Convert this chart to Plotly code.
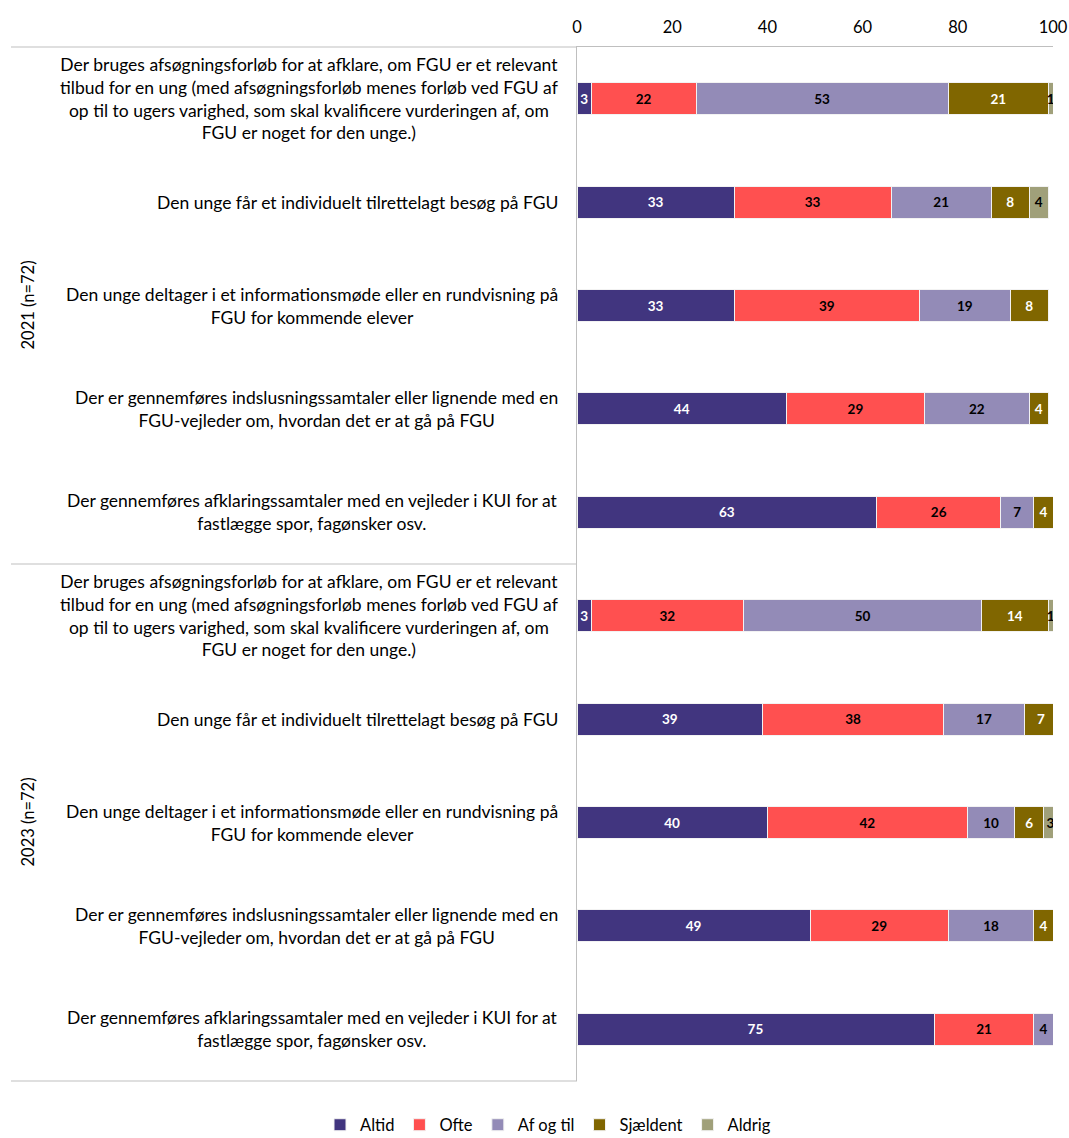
import plotly.graph_objects as go

# ---------------- data ----------------
years = ["2021 (n=72)", "2023 (n=72)"]
statements = [
    "Der bruges afsøgningsforløb for at afklare, om FGU er et relevant<br>tilbud for en ung (med afsøgningsforløb menes forløb ved FGU af<br>op til to ugers varighed, som skal kvalificere vurderingen af, om<br>FGU er noget for den unge.)",
    "Den unge får et individuelt tilrettelagt besøg på FGU",
    "Den unge deltager i et informationsmøde eller en rundvisning på<br>FGU for kommende elever",
    "Der er gennemføres indslusningssamtaler eller lignende med en<br>FGU-vejleder om, hvordan det er at gå på FGU",
    "Der gennemføres afklaringssamtaler med en vejleder i KUI for at<br>fastlægge spor, fagønsker osv.",
]
series_names = ["Altid", "Ofte", "Af og til", "Sjældent", "Aldrig"]

# values per series, rows: 2021 statements 1-5, then 2023 statements 1-5
altid     = [3, 33, 33, 44, 63, 3, 39, 40, 49, 75]
ofte      = [22, 33, 39, 29, 26, 32, 38, 42, 29, 21]
af_og_til = [53, 21, 19, 22, 7, 50, 17, 10, 18, 4]
sjaeldent = [21, 8, 8, 4, 4, 14, 7, 6, 4, None]
aldrig    = [1, 4, None, None, None, 1, None, 3, None, None]

x_ticks = [0, 20, 40, 60, 80, 100]

# ---------------- styling ----------------
colors = ["#41357F", "#FF5050", "#938BB7", "#806600", "#A0A07A"]
text_colors = ["white", "black", "black", "white", "black"]
FONT = "Lato"

cats = [f"{y}|{i}" for y in years for i in range(len(statements))]
label_for_cat = {f"{y}|{i}": s for y in years for i, s in enumerate(statements)}

fig = go.Figure()
for name, vals, col, tcol in zip(series_names,
                                 [altid, ofte, af_og_til, sjaeldent, aldrig],
                                 colors, text_colors):
    fig.add_trace(go.Bar(
        name=name, y=cats, x=vals, orientation="h",
        marker=dict(color=col, line=dict(color="#F2F2F2", width=1)),
        text=[("" if v is None else str(v)) for v in vals],
        textposition="inside", insidetextanchor="middle",
        textangle=0, constraintext="none",
        textfont=dict(family=FONT, size=13.5, color=tcol, weight="bold"),
        width=0.31, hoverinfo="x+name",
    ))

# category labels
for c in cats:
    fig.add_annotation(x=0, xref="paper", y=c, yref="y", text=label_for_cat[c],
                       xanchor="right", yanchor="middle", align="center",
                       xshift=-17, showarrow=False,
                       font=dict(family=FONT, size=17.5, color="black"))

# year group labels
for j, yname in enumerate(years):
    fig.add_annotation(x=(27 - 577) / 476, xref="paper", y=0.75 - 0.5 * j, yref="paper",
                       text=yname, textangle=-90, showarrow=False,
                       xanchor="center", yanchor="middle",
                       font=dict(family=FONT, size=16.5, color="black"))

# group separator lines
xl = (11 - 577) / 476
for yy in [1.0, 0.5, 0.0]:
    fig.add_shape(type="line", xref="paper", yref="paper", x0=xl, x1=0, y0=yy, y1=yy,
                  line=dict(color="#BFBFBF", width=1))

fig.update_layout(
    barmode="stack",
    width=1069, height=1138,
    margin=dict(l=577, r=16, t=47, b=57, autoexpand=False),
    paper_bgcolor="white", plot_bgcolor="white",
    font=dict(family=FONT, size=16, color="black"),
    xaxis=dict(range=[0, 100], tickvals=x_ticks, side="top", showgrid=False,
               zeroline=False, showline=True, linecolor="#BFBFBF", linewidth=1,
               ticks="", ticklabelstandoff=6,
               tickfont=dict(family=FONT, size=16.5, color="black"),
               fixedrange=True),
    yaxis=dict(categoryorder="array", categoryarray=cats, autorange="reversed",
               showticklabels=False, showgrid=False, zeroline=False,
               showline=True, linecolor="#BFBFBF", linewidth=1, ticks="",
               fixedrange=True),
    legend=dict(orientation="h", x=(548 - 577) / 476, xanchor="center",
                y=-(1125 - 1081) / 1034, yanchor="middle",
                font=dict(family=FONT, size=16.5), itemwidth=30,
                tracegroupgap=0, traceorder="normal"),
    showlegend=True,
)

fig.write_html("out.html",
               config={"displayModeBar": False},
               post_script="document.body.style.margin='0px';"
                           "document.body.style.overflow='hidden';")
